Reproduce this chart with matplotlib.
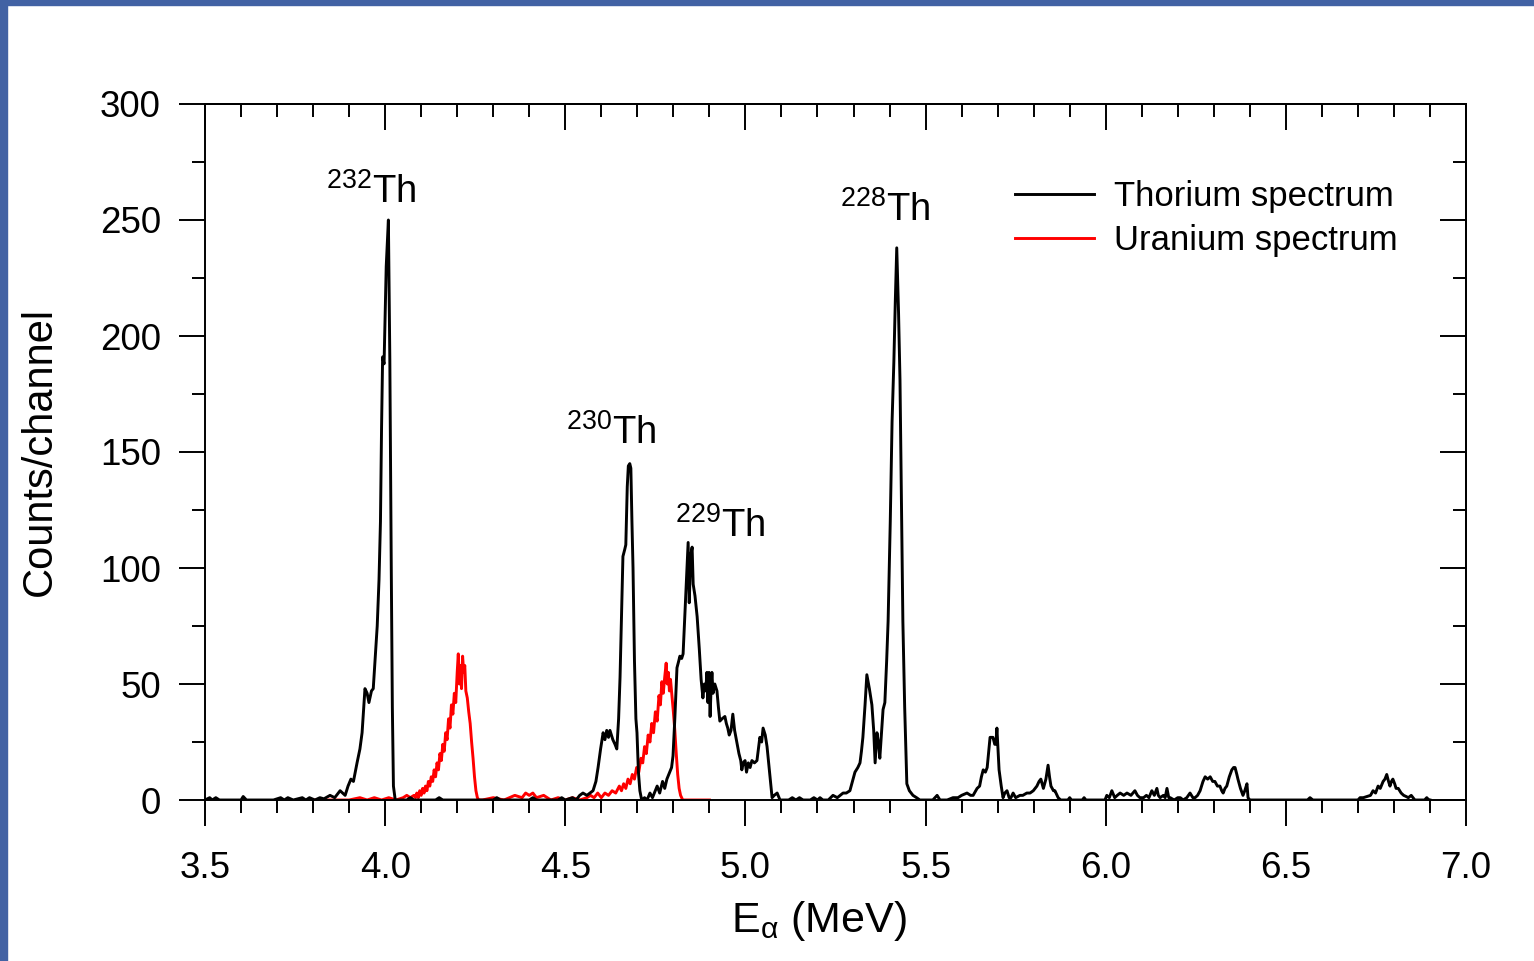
import numpy as np
import matplotlib
matplotlib.use("Agg")
import matplotlib.pyplot as plt
from matplotlib.ticker import MultipleLocator
from matplotlib.patches import Rectangle

plt.rcParams['font.family'] = ['Liberation Sans', 'DejaVu Sans']
plt.rcParams['mathtext.fontset'] = 'custom'
plt.rcParams['mathtext.rm'] = 'Liberation Sans'
plt.rcParams['mathtext.it'] = 'Liberation Sans:italic'
plt.rcParams['mathtext.bf'] = 'Liberation Sans:bold'

# thorium spectrum (energy in MeV, counts per channel)
th_energy = [
    3.500, 3.513, 3.520, 3.530, 3.540, 3.600, 3.606, 3.615, 3.690, 3.710, 3.720, 3.730, 3.745,
    3.770, 3.780, 3.790, 3.805, 3.819, 3.830, 3.847, 3.860, 3.875, 3.882, 3.889, 3.897, 3.905,
    3.912, 3.922, 3.930, 3.936, 3.944, 3.950, 3.955, 3.962, 3.967, 3.972, 3.978, 3.983, 3.987,
    3.990, 3.993, 3.997, 4.003, 4.009, 4.013, 4.017, 4.020, 4.023, 4.028, 4.060, 4.070, 4.080,
    4.140, 4.150, 4.160, 4.300, 4.310, 4.320, 4.400, 4.410, 4.420, 4.480, 4.490, 4.500, 4.520,
    4.530, 4.540, 4.549, 4.560, 4.577, 4.585, 4.591, 4.598, 4.605, 4.610, 4.615, 4.620, 4.624,
    4.632, 4.638, 4.643, 4.648, 4.652, 4.656, 4.660, 4.665, 4.668, 4.672, 4.675, 4.679, 4.682,
    4.685, 4.688, 4.692, 4.696, 4.699, 4.703, 4.707, 4.712, 4.720, 4.727, 4.735, 4.742, 4.750,
    4.755, 4.762, 4.770, 4.776, 4.782, 4.790, 4.795, 4.799, 4.804, 4.810, 4.815, 4.818, 4.823,
    4.827, 4.832, 4.838, 4.841, 4.844, 4.848, 4.852, 4.855, 4.860, 4.866, 4.872, 4.877, 4.882,
    4.886, 4.890, 4.893, 4.896, 4.899, 4.902, 4.905, 4.907, 4.910, 4.915, 4.921, 4.925, 4.929,
    4.935, 4.943, 4.947, 4.951, 4.955, 4.960, 4.965, 4.970, 4.976, 4.982, 4.987, 4.990, 4.994,
    4.999, 5.003, 5.008, 5.013, 5.018, 5.025, 5.032, 5.036, 5.040, 5.045, 5.049, 5.055, 5.060,
    5.067, 5.074, 5.080, 5.088, 5.096, 5.120, 5.130, 5.140, 5.150, 5.160, 5.180, 5.190, 5.200,
    5.207, 5.215, 5.230, 5.243, 5.255, 5.271, 5.280, 5.290, 5.297, 5.304, 5.312, 5.318, 5.322,
    5.326, 5.330, 5.332, 5.337, 5.344, 5.351, 5.356, 5.360, 5.365, 5.369, 5.373, 5.378, 5.382,
    5.387, 5.392, 5.396, 5.402, 5.407, 5.412, 5.416, 5.420, 5.425, 5.429, 5.433, 5.437, 5.442,
    5.448, 5.455, 5.465, 5.475, 5.484, 5.520, 5.532, 5.540, 5.560, 5.576, 5.590, 5.600, 5.615,
    5.625, 5.632, 5.643, 5.650, 5.655, 5.660, 5.666, 5.671, 5.676, 5.679, 5.687, 5.692, 5.695,
    5.698, 5.704, 5.710, 5.715, 5.720, 5.726, 5.732, 5.737, 5.743, 5.750, 5.762, 5.770, 5.781,
    5.790, 5.799, 5.809, 5.815, 5.820, 5.827, 5.834, 5.840, 5.844, 5.848, 5.855, 5.859, 5.868,
    5.875, 5.895, 5.900, 5.905, 5.935, 5.940, 5.945, 5.998, 6.003, 6.010, 6.017, 6.025, 6.032,
    6.040, 6.050, 6.059, 6.070, 6.081, 6.088, 6.095, 6.105, 6.113, 6.120, 6.128, 6.135, 6.142,
    6.146, 6.151, 6.160, 6.165, 6.170, 6.175, 6.179, 6.190, 6.200, 6.207, 6.215, 6.225, 6.234,
    6.242, 6.248, 6.255, 6.262, 6.270, 6.276, 6.283, 6.290, 6.297, 6.303, 6.310, 6.317, 6.322,
    6.326, 6.331, 6.336, 6.343, 6.350, 6.355, 6.359, 6.364, 6.367, 6.374, 6.381, 6.386, 6.392,
    6.395, 6.400, 6.560, 6.567, 6.575, 6.700, 6.706, 6.715, 6.725, 6.735, 6.742, 6.749, 6.756,
    6.762, 6.770, 6.775, 6.780, 6.785, 6.789, 6.793, 6.797, 6.802, 6.806, 6.812, 6.820, 6.827,
    6.834, 6.840, 6.848, 6.858, 6.885, 6.891, 6.897, 6.900,
]
th_counts = [
    0, 1, 0, 1, 0, 0, 1.5, 0, 0, 1, 0, 1, 0,
    1, 0, 1, 0, 1, 0.5, 2, 1, 4, 3, 2, 6, 9,
    8, 16, 22, 29, 48, 46, 42, 47, 48, 60, 75, 95, 120,
    160, 191, 188, 230, 250, 190, 100, 40, 6, 0, 0, 1, 0,
    0, 1, 0, 0, 1, 0, 0, 1, 0, 0, 1, 0, 1,
    0, 2, 3, 2, 4, 8, 14, 22, 29, 26, 30, 27, 30,
    26, 24, 22, 35, 53, 80, 105, 108, 110, 135, 144, 145, 143,
    120, 100, 60, 35, 29, 12, 4, 0, 1, 0, 3, 1, 4,
    6, 3, 8, 5, 9, 12, 14, 19, 35, 57, 60, 62, 61,
    63, 80, 100, 111, 85, 105, 109, 93, 88, 79, 65, 52, 44,
    50, 47, 55, 42, 55, 36, 50, 55, 46, 50, 47, 40, 34,
    35, 36, 33, 31, 28, 30, 37, 30, 25, 20, 17, 13, 16,
    17, 12, 16, 14, 17, 16, 17, 22, 27, 25, 31, 28, 23,
    12, 1, 2, 3, 0, 0, 1, 0, 1, 0, 0, 1, 0,
    1, 0, 0, 2, 1, 3, 3, 4, 8, 12, 14, 16, 21,
    27, 36, 41, 54, 48, 41, 30, 16, 29, 25, 18, 30, 39,
    42, 60, 77, 120, 163, 189, 215, 238, 210, 181, 130, 77, 40,
    7, 4, 2, 1, 0, 0, 2, 0, 0, 1, 1, 2, 3,
    2, 2, 5, 6, 10, 13, 12, 14, 22, 27, 27, 24, 24,
    31, 13, 6, 1, 3, 4, 1, 1, 3, 1, 2, 2, 3,
    3, 4, 6, 8, 9, 5, 9, 15, 10, 6, 4, 4, 1,
    0, 0, 1, 0, 0, 1, 0, 0, 2, 1, 4, 1, 2,
    3, 2, 3, 2, 4, 2, 1, 1, 2, 1, 4, 2, 5,
    2, 1, 2, 1, 5, 1, 1, 0, 1, 1, 0, 1, 3,
    1, 1, 2, 4, 8, 10, 9, 10, 8, 8, 6, 6, 4,
    3, 5, 6, 10, 13, 14, 14, 11, 9, 5, 2, 4, 7,
    1, 0, 0, 1, 0, 0, 1, 1, 1.5, 2, 4, 3, 6,
    5, 8, 9, 11, 8, 6, 8, 9, 7, 5, 5, 3, 2,
    1.5, 1, 2, 0, 0, 1, 0, 0,
]

# uranium spectrum
u_energy = [
    3.800, 3.850, 3.900, 3.930, 3.950, 3.970, 3.990, 4.010, 4.030, 4.050, 4.060, 4.070,
    4.080, 4.084, 4.088, 4.092, 4.096, 4.100, 4.104, 4.108, 4.112, 4.116, 4.120, 4.124,
    4.128, 4.132, 4.136, 4.140, 4.144, 4.148, 4.152, 4.156, 4.160, 4.164, 4.168, 4.172,
    4.176, 4.180, 4.184, 4.188, 4.192, 4.196, 4.200, 4.203, 4.206, 4.209, 4.212, 4.215,
    4.218, 4.221, 4.224, 4.228, 4.232, 4.236, 4.240, 4.244, 4.248, 4.252, 4.256, 4.260,
    4.270, 4.300, 4.330, 4.360, 4.380, 4.390, 4.400, 4.410, 4.420, 4.440, 4.460, 4.480,
    4.500, 4.520, 4.540, 4.560, 4.570, 4.580, 4.590, 4.600, 4.610, 4.620, 4.630, 4.640,
    4.650, 4.656, 4.662, 4.668, 4.674, 4.680, 4.686, 4.692, 4.698, 4.704, 4.710, 4.715,
    4.720, 4.725, 4.730, 4.735, 4.740, 4.745, 4.750, 4.755, 4.760, 4.764, 4.768, 4.772,
    4.776, 4.780, 4.783, 4.786, 4.789, 4.792, 4.796, 4.800, 4.804, 4.808, 4.812, 4.816,
    4.820, 4.826, 4.900,
]
u_counts = [
    0, 0, 0, 1, 0, 1, 0, 1, 0, 1, 2, 1,
    2, 1, 3, 1, 4, 2, 5, 3, 6, 4, 8, 6,
    10, 8, 13, 10, 16, 13, 20, 17, 24, 21, 29, 26,
    35, 31, 41, 37, 46, 42, 55, 63, 50, 58, 48, 62,
    55, 58, 47, 44, 38, 33, 25, 18, 10, 4, 1, 0,
    0, 1, 0, 2, 1, 3, 2, 3, 1, 2, 0, 1,
    0, 1, 0, 1, 2, 1, 3, 1, 3, 2, 4, 3,
    6, 4, 7, 5, 9, 7, 11, 9, 14, 12, 18, 16,
    23, 20, 28, 25, 33, 29, 38, 34, 45, 41, 51, 46,
    53, 59, 50, 55, 47, 52, 45, 38, 30, 20, 11, 5,
    2, 0, 0,
]

peak_names = ['232', '230', '229', '228']
peak_x = [3.961, 4.627, 4.929, 5.387]
peak_y = [262, 158, 118, 254.5]

fig = plt.figure(figsize=(15.34, 9.61), dpi=100)
ax = fig.add_axes([205 / 1534, 161 / 961, 1261 / 1534, 696 / 961])

ax.plot(th_energy, th_counts, color='black', lw=2.1, label='Thorium spectrum', zorder=3)
ax.plot(u_energy, u_counts, color='red', lw=2.1, label='Uranium spectrum', zorder=2)

ax.set_xlim(3.5, 7.0)
ax.set_ylim(0, 300)
ax.xaxis.set_major_locator(MultipleLocator(0.5))
ax.xaxis.set_minor_locator(MultipleLocator(0.1))
ax.yaxis.set_major_locator(MultipleLocator(50))
ax.yaxis.set_minor_locator(MultipleLocator(25))
ax.xaxis.set_major_formatter(plt.FuncFormatter(lambda v, p: f'{v:.1f}'))

ax.tick_params(which='both', direction='out', width=1.4, labelsize=26.5, colors='black')
ax.tick_params(which='major', length=18.7)
ax.tick_params(which='minor', length=9.4)
ax.tick_params(axis='x', pad=18)
ax.tick_params(axis='y', pad=13)
for s in ax.spines.values():
    s.set_linewidth(1.4)

# inward ticks on top and right
secx = ax.secondary_xaxis('top')
secx.xaxis.set_major_locator(MultipleLocator(0.5))
secx.xaxis.set_minor_locator(MultipleLocator(0.1))
secx.tick_params(which='both', direction='in', width=1.4, labeltop=False)
secx.tick_params(which='major', length=18.7)
secx.tick_params(which='minor', length=9.4)
secy = ax.secondary_yaxis('right')
secy.yaxis.set_major_locator(MultipleLocator(50))
secy.yaxis.set_minor_locator(MultipleLocator(25))
secy.tick_params(which='both', direction='in', width=1.4, labelright=False)
secy.tick_params(which='major', length=18.7)
secy.tick_params(which='minor', length=9.4)
for s in list(secx.spines.values()) + list(secy.spines.values()):
    s.set_linewidth(1.4)

ax.set_xlabel(r'E$_{\mathrm{\alpha}}$ (MeV)', fontsize=31)
ax.xaxis.set_label_coords(0.487, -0.142)
ax.set_ylabel('Counts/channel', fontsize=30)
ax.yaxis.set_label_coords(-0.115, 0.5)

for name, x, y in zip(peak_names, peak_x, peak_y):
    ax.text(x, y, r'$^{' + name + r'}$Th', fontsize=27.5, ha='center', va='center')

ax.legend(loc='upper left', bbox_to_anchor=(0.642, 0.891), frameon=False, fontsize=25,
          handlelength=2.3, handletextpad=0.55, labelspacing=0.32, borderpad=0, borderaxespad=0)

# blue slide frame on top and left
fig.patches.append(Rectangle((0, 1 - 5 / 961), 1, 5 / 961, transform=fig.transFigure,
                             color='#4262a4', zorder=10))
fig.patches.append(Rectangle((0, 0), 7 / 1534, 1, transform=fig.transFigure,
                             color='#4262a4', zorder=10))

fig.savefig('out.png', dpi=100)
